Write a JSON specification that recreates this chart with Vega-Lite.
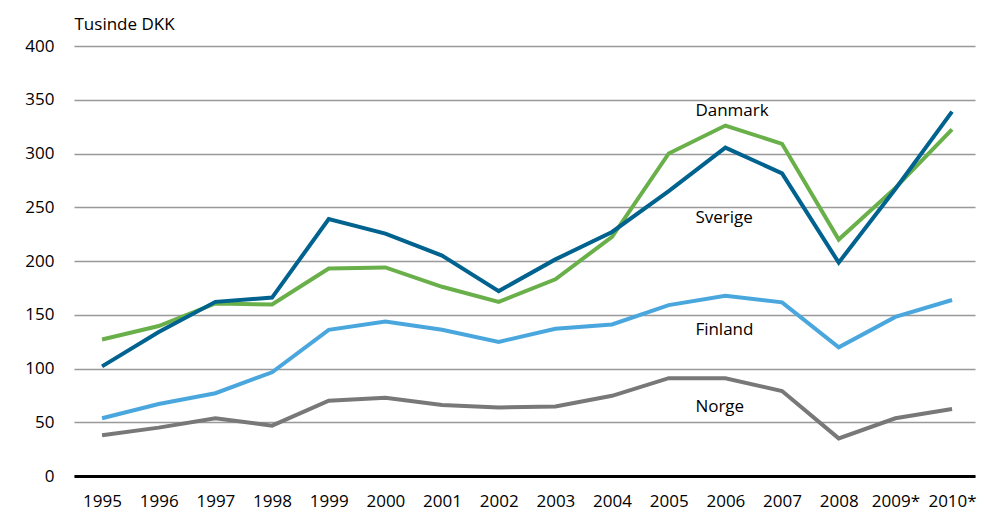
{
  "$schema": "https://vega.github.io/schema/vega-lite/v6.json",
  "width": 901,
  "height": 430,
  "autosize": "none",
  "padding": {"left": 74, "top": 46, "right": 10, "bottom": 37},
  "config": {"view": {"stroke": null}, "font": "Open Sans", "text": {"font": "Open Sans"}},
  "datasets": {
    "series": [
      {"year": "1995", "country": "Danmark", "value": 127},
      {"year": "1996", "country": "Danmark", "value": 139.5},
      {"year": "1997", "country": "Danmark", "value": 160.5},
      {"year": "1998", "country": "Danmark", "value": 159.5},
      {"year": "1999", "country": "Danmark", "value": 193},
      {"year": "2000", "country": "Danmark", "value": 194},
      {"year": "2001", "country": "Danmark", "value": 176},
      {"year": "2002", "country": "Danmark", "value": 162},
      {"year": "2003", "country": "Danmark", "value": 183},
      {"year": "2004", "country": "Danmark", "value": 222.5},
      {"year": "2005", "country": "Danmark", "value": 300},
      {"year": "2006", "country": "Danmark", "value": 326},
      {"year": "2007", "country": "Danmark", "value": 309},
      {"year": "2008", "country": "Danmark", "value": 220},
      {"year": "2009*", "country": "Danmark", "value": 268},
      {"year": "2010*", "country": "Danmark", "value": 322.5},
      {"year": "1995", "country": "Sverige", "value": 102},
      {"year": "1996", "country": "Sverige", "value": 134},
      {"year": "1997", "country": "Sverige", "value": 162},
      {"year": "1998", "country": "Sverige", "value": 166},
      {"year": "1999", "country": "Sverige", "value": 239},
      {"year": "2000", "country": "Sverige", "value": 225.5},
      {"year": "2001", "country": "Sverige", "value": 205},
      {"year": "2002", "country": "Sverige", "value": 172},
      {"year": "2003", "country": "Sverige", "value": 201.5},
      {"year": "2004", "country": "Sverige", "value": 227},
      {"year": "2005", "country": "Sverige", "value": 265},
      {"year": "2006", "country": "Sverige", "value": 305.5},
      {"year": "2007", "country": "Sverige", "value": 281.5},
      {"year": "2008", "country": "Sverige", "value": 198.5},
      {"year": "2009*", "country": "Sverige", "value": 267},
      {"year": "2010*", "country": "Sverige", "value": 339},
      {"year": "1995", "country": "Finland", "value": 53.7},
      {"year": "1996", "country": "Finland", "value": 67},
      {"year": "1997", "country": "Finland", "value": 77},
      {"year": "1998", "country": "Finland", "value": 96.5},
      {"year": "1999", "country": "Finland", "value": 136},
      {"year": "2000", "country": "Finland", "value": 143.7},
      {"year": "2001", "country": "Finland", "value": 136},
      {"year": "2002", "country": "Finland", "value": 124.7},
      {"year": "2003", "country": "Finland", "value": 137},
      {"year": "2004", "country": "Finland", "value": 141},
      {"year": "2005", "country": "Finland", "value": 159},
      {"year": "2006", "country": "Finland", "value": 167.7},
      {"year": "2007", "country": "Finland", "value": 161.5},
      {"year": "2008", "country": "Finland", "value": 119.7},
      {"year": "2009*", "country": "Finland", "value": 148},
      {"year": "2010*", "country": "Finland", "value": 163.7},
      {"year": "1995", "country": "Norge", "value": 38},
      {"year": "1996", "country": "Norge", "value": 45},
      {"year": "1997", "country": "Norge", "value": 53.7},
      {"year": "1998", "country": "Norge", "value": 46.8},
      {"year": "1999", "country": "Norge", "value": 70},
      {"year": "2000", "country": "Norge", "value": 72.8},
      {"year": "2001", "country": "Norge", "value": 66},
      {"year": "2002", "country": "Norge", "value": 63.7},
      {"year": "2003", "country": "Norge", "value": 64.7},
      {"year": "2004", "country": "Norge", "value": 74.6},
      {"year": "2005", "country": "Norge", "value": 91},
      {"year": "2006", "country": "Norge", "value": 91},
      {"year": "2007", "country": "Norge", "value": 79},
      {"year": "2008", "country": "Norge", "value": 35},
      {"year": "2009*", "country": "Norge", "value": 53.7},
      {"year": "2010*", "country": "Norge", "value": 62.3}
    ],
    "labels": [
      {"year": "2006", "country": "Danmark", "value": 339.5},
      {"year": "2006", "country": "Sverige", "value": 240},
      {"year": "2006", "country": "Finland", "value": 135.8},
      {"year": "2006", "country": "Norge", "value": 64}
    ]
  },
  "encoding": {
    "x": {
      "field": "year",
      "type": "ordinal",
      "sort": null,
      "scale": {"type": "point", "padding": 0.45, "align": 0.55,
        "domain": ["1995","1996","1997","1998","1999","2000","2001","2002","2003","2004","2005","2006","2007","2008","2009*","2010*"]},
      "axis": {
        "title": null,
        "labelAngle": 0,
        "labelFontSize": 17,
        "labelColor": "#000000",
        "labelPadding": 17,
        "ticks": false,
        "grid": false,
        "domainColor": "#000000",
        "domainWidth": 3,
        "zindex": 1
      }
    },
    "y": {
      "field": "value",
      "type": "quantitative",
      "scale": {"domain": [0, 400], "nice": false, "zero": true},
      "axis": {
        "title": "Tusinde DKK",
        "titleAngle": 0,
        "titleAlign": "left",
        "titleBaseline": "alphabetic",
        "titleX": 0,
        "titleY": -17,
        "titleFontSize": 17,
        "titleFontWeight": "normal",
        "titleColor": "#000000",
        "values": [0, 50, 100, 150, 200, 250, 300, 350, 400],
        "labelFontSize": 17,
        "labelColor": "#000000",
        "labelPadding": 20,
        "ticks": false,
        "domain": false,
        "grid": true,
        "gridColor": "#999999",
        "gridWidth": 1.6
      }
    }
  },
  "layer": [
    {
      "data": {"name": "series"},
      "mark": {"type": "line", "strokeWidth": 4, "strokeJoin": "miter"},
      "encoding": {
        "color": {
          "field": "country",
          "type": "nominal",
          "scale": {"domain": ["Danmark", "Sverige", "Finland", "Norge"],
                    "range": ["#6ab04a", "#00628e", "#4aa7de", "#787878"]},
          "legend": null
        }
      }
    },
    {
      "data": {"name": "labels"},
      "mark": {"type": "text", "align": "left", "baseline": "middle", "dx": -30, "fontSize": 17, "color": "#000000"},
      "encoding": {
        "text": {"field": "country"}
      }
    }
  ]
}
